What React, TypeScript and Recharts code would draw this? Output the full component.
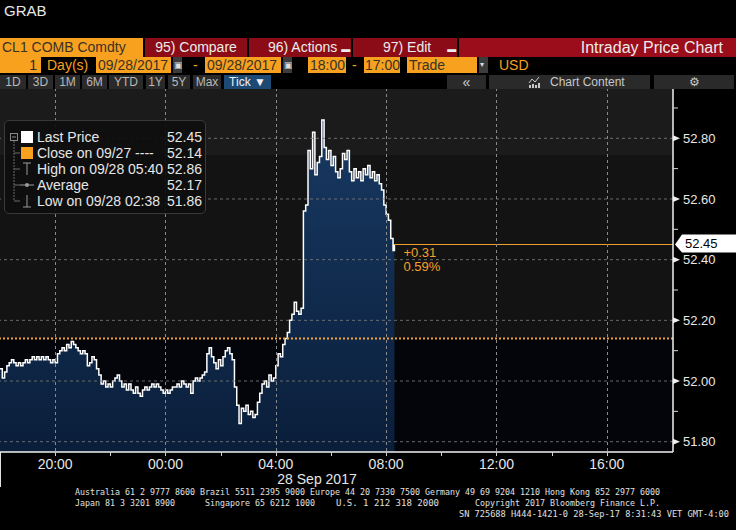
import React from 'react';
import { ComposedChart, Area, XAxis, YAxis, ReferenceLine, ReferenceArea } from 'recharts';

const FONT = "'Liberation Sans', Arial, Helvetica, sans-serif";
const MONO = "'DejaVu Sans Mono', 'Liberation Mono', monospace";

const tickMinutes = [
  0, 5, 10, 15, 20, 25, 30, 35, 40, 45, 50, 55, 60, 65, 70, 75, 80, 85, 90, 95,
  100, 105, 110, 115, 120, 125, 130, 135, 140, 145, 150, 155, 160, 165, 170, 175, 180, 185, 190, 195,
  200, 205, 210, 215, 220, 225, 230, 235, 240, 245, 250, 255, 260, 265, 270, 275, 280, 285, 290, 295,
  300, 305, 310, 315, 320, 325, 330, 335, 340, 345, 350, 355, 360, 365, 370, 375, 380, 385, 390, 395,
  400, 405, 410, 415, 420, 425, 430, 435, 440, 445, 450, 455, 460, 465, 470, 475, 480, 485, 490, 495,
  500, 505, 510, 515, 520, 525, 530, 535, 540, 545, 550, 555, 560, 565, 570, 575, 580, 585, 590, 595,
  600, 605, 610, 615, 620, 625, 630, 635, 640, 645, 650, 655, 660, 665, 670, 675, 680, 685, 690, 695,
  700, 705, 710, 715, 720, 725, 730, 735, 740, 745, 750, 755, 760, 765, 770, 775, 780, 785, 790, 795,
  800, 805, 810, 815, 820, 825, 830, 835, 840, 845, 850, 855, 858,
];

const tickPrices = [
  52.04, 52.01, 52.03, 52.05, 52.06, 52.07, 52.06, 52.05, 52.06, 52.05, 52.06, 52.07, 52.06, 52.07, 52.08, 52.07, 52.08, 52.07, 52.08, 52.07,
  52.08, 52.07, 52.06, 52.07, 52.06, 52.09, 52.10, 52.11, 52.10, 52.12, 52.11, 52.13, 52.12, 52.11, 52.10, 52.09, 52.10, 52.09, 52.05, 52.06,
  52.08, 52.07, 52.04, 52.02, 51.99, 52.00, 51.98, 51.99, 51.98, 52.00, 52.01, 52.02, 52.00, 51.98, 51.99, 51.97, 51.99, 51.97, 51.96, 51.98,
  51.96, 51.95, 51.97, 51.98, 51.97, 51.98, 51.99, 51.98, 51.99, 51.98, 51.97, 51.96, 51.97, 51.96, 51.97, 51.98, 51.98, 51.99, 51.98, 52.00,
  51.99, 51.98, 51.99, 51.96, 52.00, 52.01, 52.00, 52.01, 52.02, 52.03, 52.09, 52.11, 52.08, 52.06, 52.04, 52.07, 52.05, 52.08, 52.10, 52.11,
  52.09, 52.07, 51.98, 51.92, 51.86, 51.91, 51.90, 51.92, 51.89, 51.90, 51.88, 51.89, 51.93, 51.96, 51.99, 52.00, 51.98, 52.02, 52.00, 52.01,
  52.05, 52.09, 52.08, 52.12, 52.14, 52.16, 52.20, 52.22, 52.26, 52.23, 52.22, 52.24, 52.56, 52.58, 52.76, 52.70, 52.82, 52.68, 52.72, 52.74,
  52.86, 52.77, 52.73, 52.76, 52.71, 52.74, 52.69, 52.67, 52.70, 52.75, 52.73, 52.76, 52.69, 52.66, 52.70, 52.67, 52.69, 52.66, 52.70, 52.68,
  52.71, 52.67, 52.69, 52.66, 52.68, 52.65, 52.63, 52.58, 52.55, 52.53, 52.47, 52.43, 52.45,
];

const prevClose = 52.14;
const lastPrice = 52.45;
const changeAbs = '+0.31';
const changePct = '0.59%';
const topBandLevel = 52.745;

const yMajorTicks = [51.8, 52.0, 52.2, 52.4, 52.6, 52.8];
const yMinorTicks = [51.9, 52.1, 52.3, 52.5, 52.7, 52.9];
const xTicks = [120, 240, 360, 480, 600, 720, 840, 960, 1080, 1200, 1320];
const xLabelTicks = [120, 360, 600, 840, 1080, 1320];
const xLabels = ['20:00', '00:00', '04:00', '08:00', '12:00', '16:00'];
const xDomain: [number, number] = [0, 1464];
const yDomain: [number, number] = [51.766, 52.9625];

const legendLabels = ['Last Price', 'Close on 09/27 ----', 'High on 09/28 05:40', 'Average', 'Low on 09/28 02:38'];
const legendValues = ['52.45', '52.14', '52.86', '52.17', '51.86'];

const periodButtons = ['1D', '3D', '1M', '6M', 'YTD', '1Y', '5Y', 'Max'];
const periodLefts = [0, 28, 55, 82, 109, 146, 168, 193];
const periodWidths = [26, 25, 25, 25, 34, 19, 22, 28];

const data = tickMinutes.map((m, i) => ({ m, price: tickPrices[i] }));
const yAllTicks = [...yMajorTicks, ...yMinorTicks].sort((a, b) => a - b);

const ORANGE = '#f7a11f';
const DARKRED = '#8b0c16';
const PLOT_TOP = 89;

const YTick = (props: any) => {
  const { x, y, payload } = props;
  const v = payload.value;
  const major = yMajorTicks.some((t) => Math.abs(t - v) < 1e-6);
  if (!major) {
    return <line x1={x} y1={y} x2={x + 5} y2={y} stroke="#d8d8d8" strokeWidth={1} />;
  }
  return (
    <g>
      <polygon points={`${x},${y - 3} ${x + 7},${y} ${x},${y + 3}`} fill="#f0f0f0" />
      <text x={x + 10} y={y} dy="0.36em" fill="#e8e8e8" fontSize={13} fontFamily={FONT}>
        {Number(v).toFixed(2)}
      </text>
    </g>
  );
};

const XTick = (props: any) => {
  const { x, y, payload } = props;
  const idx = xLabelTicks.indexOf(payload.value);
  const sx = Math.round(x) + 0.5;
  return (
    <g>
      <line x1={sx} y1={y} x2={sx} y2={y + 4} stroke="#d0d0d0" strokeWidth={1} />
      {idx >= 0 && (
        <>
          <line x1={sx} y1={y - 1} x2={sx} y2={PLOT_TOP} stroke="#8a8a8a" strokeWidth={1} strokeDasharray="3 3" />
          <text x={x} y={y + 17} textAnchor="middle" fill="#e6e6e6" fontSize={14} fontFamily={FONT}>
            {xLabels[idx]}
          </text>
        </>
      )}
    </g>
  );
};

const renderLastLabel = (props: any) => {
  const vb = props.viewBox || {};
  const x0 = vb.x ?? 0;
  const y0 = vb.y ?? 0;
  const x1 = x0 + (vb.width ?? 0);
  return (
    <g>
      <text x={x0 + 9} y={y0 + 13} fill="#f5a02a" fontSize={13} fontFamily={FONT}>{changeAbs}</text>
      <text x={x0 + 9} y={y0 + 27} fill="#f5a02a" fontSize={13} fontFamily={FONT}>{changePct}</text>
      <polygon
        points={`${x1 + 2},${y0} ${x1 + 9},${y0 - 10} ${x1 + 70},${y0 - 10} ${x1 + 70},${y0 + 8} ${x1 + 9},${y0 + 8}`}
        fill="#ffffff"
      />
      <text x={x1 + 12} y={y0 + 4} fill="#000" fontSize={13} fontFamily={FONT}>{lastPrice.toFixed(2)}</text>
    </g>
  );
};

const Cell = ({ l, t, w, h, bg, color, fs = 14, align = 'left', pad = 3, children }: any) => (
  <div
    style={{
      position: 'absolute', left: l, top: t, width: w, height: h, background: bg, color,
      fontSize: fs, lineHeight: `${h}px`, textAlign: align,
      paddingLeft: align === 'left' ? pad : 0, paddingRight: align === 'right' ? pad : 0,
      boxSizing: 'border-box', whiteSpace: 'nowrap', overflow: 'hidden', fontFamily: FONT,
    }}
  >
    {children}
  </div>
);

const Header = () => (
  <>
    <div style={{ position: 'absolute', left: 4, top: 2, color: '#e8e8e8', fontSize: 15, fontFamily: FONT }}>GRAB</div>
    <Cell l={0} t={38} w={143} h={19} bg={ORANGE} color="#3a3226" fs={14} pad={2}>CL1 COMB Comdty</Cell>
    <Cell l={145} t={38} w={102} h={19} bg={DARKRED} color="#ececec" fs={14} align="center">95) Compare</Cell>
    <Cell l={249} t={38} w={102} h={19} bg={DARKRED} color="#ececec" fs={14} pad={19}>96) Actions <span style={{ fontSize: 9 }}>▬</span></Cell>
    <Cell l={353} t={38} w={104} h={19} bg={DARKRED} color="#ececec" fs={14} pad={30}>97) Edit <span style={{ marginLeft: 12, fontSize: 9 }}>▬</span></Cell>
    <Cell l={459} t={38} w={277} h={19} bg="#9b0d1a" color="#ececec" fs={16} align="right" pad={13}>Intraday Price Chart</Cell>
    <Cell l={0} t={57} w={41} h={16} bg={ORANGE} color="#2a2a2a" fs={14} align="right" pad={4}>1</Cell>
    <Cell l={44} t={57} w={50} h={16} bg="#000" color={ORANGE} fs={14}>Day(s)</Cell>
    <Cell l={96} t={57} w={75} h={16} bg={ORANGE} color="#3a3226" fs={14} pad={2}>09/28/2017</Cell>
    <Cell l={173} t={57} w={9} h={16} bg="#3c3c3c" color="#ddd" fs={9} pad={1}>▣</Cell>
    <Cell l={190} t={57} w={10} h={16} bg="#000" color={ORANGE} fs={14}>-</Cell>
    <Cell l={205} t={57} w={76} h={16} bg={ORANGE} color="#3a3226" fs={14} pad={2}>09/28/2017</Cell>
    <Cell l={283} t={57} w={9} h={16} bg="#3c3c3c" color="#ddd" fs={9} pad={1}>▣</Cell>
    <Cell l={308} t={57} w={38} h={16} bg={ORANGE} color="#3a3226" fs={14} pad={2}>18:00</Cell>
    <Cell l={349} t={57} w={12} h={16} bg="#000" color={ORANGE} fs={14}>-</Cell>
    <Cell l={364} t={57} w={36} h={16} bg={ORANGE} color="#3a3226" fs={14} pad={1}>17:00</Cell>
    <Cell l={407} t={57} w={70} h={16} bg={ORANGE} color="#3a3226" fs={14} pad={2}>Trade</Cell>
    <Cell l={479} t={57} w={9} h={16} bg="#3c3c3c" color="#ddd" fs={8} pad={1}>▾</Cell>
    <Cell l={496} t={57} w={40} h={16} bg="#000" color={ORANGE} fs={14}>USD</Cell>
    {periodButtons.map((b, i) => (
      <Cell key={b} l={periodLefts[i]} t={75} w={periodWidths[i]} h={14} bg="#2a2a2a" color="#b8b8b8" fs={12} align="center">{b}</Cell>
    ))}
    <Cell l={224} t={75} w={47} h={14} bg="#1d4a74" color="#f0f0f0" fs={12} align="center">Tick ▼</Cell>
    <Cell l={447} t={75} w={39} h={14} bg="#2a2a2a" color="#d0d0d0" fs={14} align="center">«</Cell>
    <Cell l={489} t={75} w={161} h={14} bg="#2a2a2a" color="#c8c8c8" fs={12} pad={61}>Chart Content</Cell>
    <svg style={{ position: 'absolute', left: 528, top: 76 }} width={12} height={12}>
      <polyline points="1,7 4,3 7,6 11,1" fill="none" stroke="#c8c8c8" strokeWidth={1} />
      <rect x={1} y={9} width={2} height={3} fill="#c8c8c8" />
      <rect x={4} y={8} width={2} height={4} fill="#c8c8c8" />
      <rect x={7} y={9} width={2} height={3} fill="#c8c8c8" />
      <rect x={10} y={7} width={2} height={5} fill="#c8c8c8" />
    </svg>
    <Cell l={654} t={75} w={80} h={14} bg="#2a2a2a" color="#c8c8c8" fs={12} align="center">⚙</Cell>
  </>
);

const Legend = () => (
  <>
    <div
      style={{
        position: 'absolute', left: 4, top: 120, width: 202, height: 94, border: '1px solid #3a3a3a',
        borderRadius: 5, background: 'rgba(14,14,14,0.92)', boxSizing: 'border-box',
      }}
    />
    <svg style={{ position: 'absolute', left: 0, top: 0 }} width={220} height={230}>
      <line x1={14} y1={141} x2={14} y2={201} stroke="#6a6a6a" strokeDasharray="2 1" />
      {[153, 169, 185, 201].map((yy) => (
        <line key={yy} x1={14} y1={yy} x2={20} y2={yy} stroke="#6a6a6a" />
      ))}
      <rect x={10.5} y={133.5} width={7} height={7} fill="none" stroke="#8a8a8a" />
      <line x1={12} y1={137} x2={16} y2={137} stroke="#8a8a8a" />
      <rect x={21} y={131} width={12} height={12} fill="#ffffff" />
      <rect x={21} y={147} width={12} height={12} fill={ORANGE} />
      <line x1={27} y1={163} x2={27} y2={175} stroke="#9a9a9a" />
      <line x1={23} y1={163} x2={31} y2={163} stroke="#9a9a9a" />
      <line x1={20} y1={185} x2={34} y2={185} stroke="#9a9a9a" />
      <circle cx={27} cy={185} r={2} fill="#9a9a9a" />
      <line x1={27} y1={195} x2={27} y2={207} stroke="#9a9a9a" />
      <line x1={23} y1={207} x2={31} y2={207} stroke="#9a9a9a" />
      {legendLabels.map((lab, i) => (
        <text key={lab} x={37} y={137 + i * 16 + 5} fill="#e6e6e6" fontSize={14} fontFamily={FONT}>{lab}</text>
      ))}
      {legendValues.map((v, i) => (
        <text key={i} x={167} y={137 + i * 16 + 5} fill="#e6e6e6" fontSize={14} fontFamily={FONT}>{v}</text>
      ))}
    </svg>
  </>
);

const Footer = () => (
  <svg style={{ position: 'absolute', left: 0, top: 0, pointerEvents: 'none' }} width={736} height={530}>
    <line x1={0.5} y1={452} x2={0.5} y2={487} stroke="#e0e0e0" />
    <text x={317} y={484} textAnchor="middle" fill="#e6e6e6" fontSize={14} fontFamily={FONT}>28 Sep 2017</text>
    <g fill="#e0e0e0" fontSize={8.3} fontFamily={MONO}>
      <text x={75} y={495} textLength={585} lengthAdjust="spacingAndGlyphs">
        Australia 61 2 9777 8600 Brazil 5511 2395 9000 Europe 44 20 7330 7500 Germany 49 69 9204 1210 Hong Kong 852 2977 6000
      </text>
      <text x={75} y={506} textLength={100} lengthAdjust="spacingAndGlyphs">Japan 81 3 3201 8900</text>
      <text x={205} y={506} textLength={110} lengthAdjust="spacingAndGlyphs">Singapore 65 6212 1000</text>
      <text x={336} y={506} textLength={103} lengthAdjust="spacingAndGlyphs">U.S. 1 212 318 2000</text>
      <text x={475} y={506} textLength={185} lengthAdjust="spacingAndGlyphs">Copyright 2017 Bloomberg Finance L.P.</text>
      <text x={459} y={517} textLength={270} lengthAdjust="spacingAndGlyphs">SN 725688 H444-1421-0 28-Sep-17  8:31:43 VET  GMT-4:00</text>
    </g>
  </svg>
);

export default function App() {
  const lastMinute = tickMinutes[tickMinutes.length - 1];
  return (
    <div
      style={{
        position: 'absolute', left: 0, top: 0, width: 736, height: 530, background: '#000',
        overflow: 'hidden', fontFamily: FONT,
      }}
    >
      <Header />
      <div style={{ position: 'absolute', left: 0, top: 0 }}>
        <ComposedChart width={736} height={530} data={data} margin={{ top: PLOT_TOP, right: 0, bottom: 48, left: 0 }}>
          <defs>
            <linearGradient id="blueFill" x1="0" y1="0" x2="0" y2="1">
              <stop offset="0%" stopColor="#183962" />
              <stop offset="100%" stopColor="#0a1e3a" />
            </linearGradient>
          </defs>
          <ReferenceArea y1={topBandLevel} y2={yDomain[1]} fill="#1b1b1b" fillOpacity={1} stroke="none" />
          <ReferenceArea y1={prevClose} y2={topBandLevel} fill="#131313" fillOpacity={1} stroke="none" />
          <ReferenceArea y1={yDomain[0]} y2={prevClose} fill="#04050b" fillOpacity={1} stroke="none" />
          <Area
            type="stepAfter" dataKey="price" baseValue="dataMin" stroke="#ffffff" strokeWidth={1.5}
            fill="url(#blueFill)" fillOpacity={1} isAnimationActive={false} dot={false} activeDot={false}
          />
          {yMajorTicks.map((v) => (
            <ReferenceLine key={`hy${v}`} y={v} stroke="#7a7a7a" strokeOpacity={0.85} strokeDasharray="3 3" />
          ))}
          <ReferenceLine y={prevClose} stroke="#f2a43a" strokeWidth={2} strokeDasharray="2 2" />
          <ReferenceLine
            segment={[{ x: lastMinute, y: lastPrice }, { x: xDomain[1], y: lastPrice }]}
            stroke="#f0a030" strokeWidth={1} label={renderLastLabel}
          />
          <XAxis
            dataKey="m" type="number" domain={xDomain} ticks={xTicks} interval={0} allowDataOverflow
            height={30} tickSize={0} tickMargin={0} tickLine={false}
            axisLine={{ stroke: '#f2f2f2', strokeWidth: 1.5 }} tick={<XTick />}
          />
          <YAxis
            orientation="right" type="number" domain={yDomain} ticks={yAllTicks} interval={0} allowDataOverflow
            width={63} tickSize={0} tickMargin={0} tickLine={false}
            axisLine={{ stroke: '#f2f2f2', strokeWidth: 1.5 }} tick={<YTick />}
          />
        </ComposedChart>
      </div>
      <Legend />
      <Footer />
    </div>
  );
}
